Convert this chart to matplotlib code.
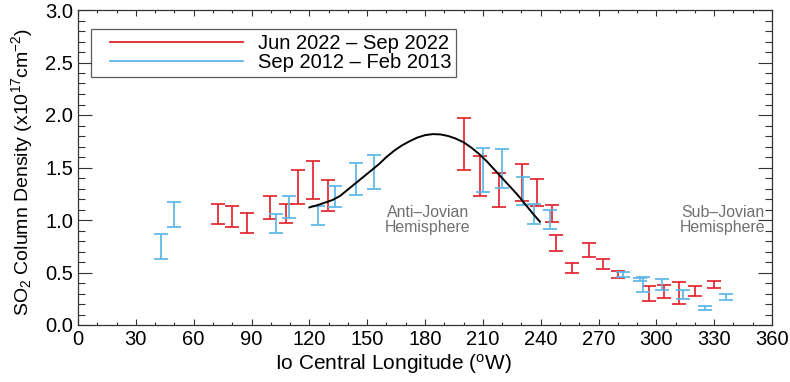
import numpy as np
import matplotlib
matplotlib.use("Agg")
import matplotlib.pyplot as plt
from matplotlib.lines import Line2D
from matplotlib.legend_handler import HandlerLine2D
from matplotlib.ticker import MultipleLocator

plt.rcParams['font.family'] = ['Liberation Sans', 'DejaVu Sans']
plt.rcParams['mathtext.fontset'] = 'custom'
plt.rcParams['mathtext.rm'] = 'Liberation Sans'
plt.rcParams['mathtext.it'] = 'Liberation Sans'
plt.rcParams['mathtext.bf'] = 'Liberation Sans'

# ---- data ----
red_lon = [72.8, 79.7, 87.5, 99.6, 107.9, 114.3, 122.1, 129.5, 200.4, 208.5,
           218.3, 230.2, 238.3, 245.8, 248.0, 256.1, 265.2, 272.5, 280.2,
           296.3, 304.1, 311.7, 320.0, 329.9]
red_lo = [0.959, 0.937, 0.879, 1.006, 0.968, 1.148, 1.200, 1.086, 1.480, 1.230,
          1.124, 1.183, 1.135, 0.977, 0.708, 0.498, 0.651, 0.533, 0.448,
          0.229, 0.258, 0.200, 0.279, 0.350]
red_hi = [1.152, 1.133, 1.063, 1.229, 1.152, 1.479, 1.565, 1.378, 1.968, 1.612,
          1.447, 1.536, 1.387, 1.143, 0.860, 0.587, 0.778, 0.629, 0.511,
          0.373, 0.385, 0.408, 0.368, 0.415]

blue_lon = [42.9, 50.0, 102.5, 109.6, 124.3, 133.3, 144.0, 153.5, 209.9, 219.8,
            231.0, 236.7, 244.8, 282.8, 291.5, 293.2, 303.1, 313.6, 325.2, 335.9]
blue_lo = [0.626, 0.937, 0.879, 1.022, 0.952, 1.121, 1.241, 1.292, 1.270, 1.308,
           1.140, 0.963, 0.914, 0.457, 0.416, 0.314, 0.330, 0.251, 0.146, 0.235]
blue_hi = [0.867, 1.171, 1.054, 1.232, 1.133, 1.324, 1.540, 1.622, 1.688, 1.673,
           1.413, 1.152, 1.095, 0.505, 0.452, 0.457, 0.435, 0.330, 0.178, 0.292]

fit_lon = [120, 124, 128, 132, 136, 140, 144, 148, 152, 156, 160, 164, 168,
           172, 176, 180, 184, 188, 192, 196, 200, 204, 208, 212, 216, 220,
           224, 228, 232, 236, 239.6]
fit_val = [1.12, 1.14, 1.165, 1.19, 1.23, 1.29, 1.35, 1.41, 1.47, 1.53,
           1.60, 1.66, 1.71, 1.75, 1.785, 1.808, 1.818, 1.815, 1.80, 1.775,
           1.74, 1.69, 1.63, 1.56, 1.48, 1.40, 1.32, 1.24, 1.15, 1.06, 0.984]

red_label = "Jun 2022 \u2013 Sep 2022"
blue_label = "Sep 2012 \u2013 Feb 2013"
red_color = '#E2232B'
blue_color = '#5BB6E6'

fig = plt.figure(figsize=(7.9, 3.82), dpi=100)
ax = fig.add_axes([78/790, 57/382, 694/790, 315/382])

def draw(lon, lo, hi, color):
    lon = np.asarray(lon); lo = np.asarray(lo); hi = np.asarray(hi)
    mid = (lo + hi) / 2
    ax.errorbar(lon, mid, yerr=[mid - lo, hi - mid], fmt='none', ecolor=color,
                elinewidth=1.3, capsize=4.8, capthick=1.3, alpha=0.95)

draw(red_lon, red_lo, red_hi, red_color)
draw(blue_lon, blue_lo, blue_hi, blue_color)
ax.plot(fit_lon, fit_val, color='black', lw=1.4, zorder=5)

ax.set_xlim(0, 360)
ax.set_ylim(0, 3.0)
ax.xaxis.set_major_locator(MultipleLocator(30))
ax.xaxis.set_minor_locator(MultipleLocator(10))
ax.yaxis.set_major_locator(MultipleLocator(0.5))
ax.yaxis.set_minor_locator(MultipleLocator(0.1))
ax.yaxis.set_major_formatter(matplotlib.ticker.FormatStrFormatter('%.1f'))

axc = '#333333'
for s in ax.spines.values():
    s.set_color(axc)
    s.set_linewidth(0.9)
ax.tick_params(axis='both', which='both', direction='in', top=True, right=True,
               color=axc, width=0.8, labelsize=14.5)
ax.tick_params(axis='y', which='major', length=10, pad=3.5)
ax.tick_params(axis='y', which='minor', length=5)
ax.tick_params(axis='x', which='major', length=4.5, pad=3.5)
ax.tick_params(axis='x', which='minor', length=2.3)

fig.text(393/790, 1 - 370/382, r"Io Central Longitude ($^{\mathrm{o}}$W)",
         ha='center', va='baseline', fontsize=15)
fig.text(22/790, 1 - 172/382, r"SO$_2$ Column Density (x10$^{17}$cm$^{-2}$)",
         ha='center', va='center', rotation=90, fontsize=14)

ax.text(181.5, 1.0, "Anti\u2013Jovian\nHemisphere", ha='center', va='center',
        fontsize=11.4, color='#707070', linespacing=1.0)
ax.text(334.5, 1.0, "Sub\u2013Jovian\nHemisphere", ha='center', va='center',
        fontsize=11.4, color='#707070', linespacing=1.0)

handles = [Line2D([], [], color=red_color, lw=1.3),
           Line2D([], [], color=blue_color, lw=1.3)]
hm = {h: HandlerLine2D(numpoints=2, marker_pad=0.71) for h in handles}
leg = ax.legend(handles, [red_label, blue_label], loc='upper left',
                bbox_to_anchor=((90.7 - 78) / 694, (325 - 29.3) / 315),
                borderaxespad=0, borderpad=0.25, handlelength=8.04,
                handletextpad=0.0, labelspacing=0.0, fontsize=14.5,
                frameon=True, fancybox=False, handler_map=hm)
leg.get_frame().set_edgecolor(axc)
leg.get_frame().set_linewidth(0.9)

fig.savefig('out.png', dpi=100)
